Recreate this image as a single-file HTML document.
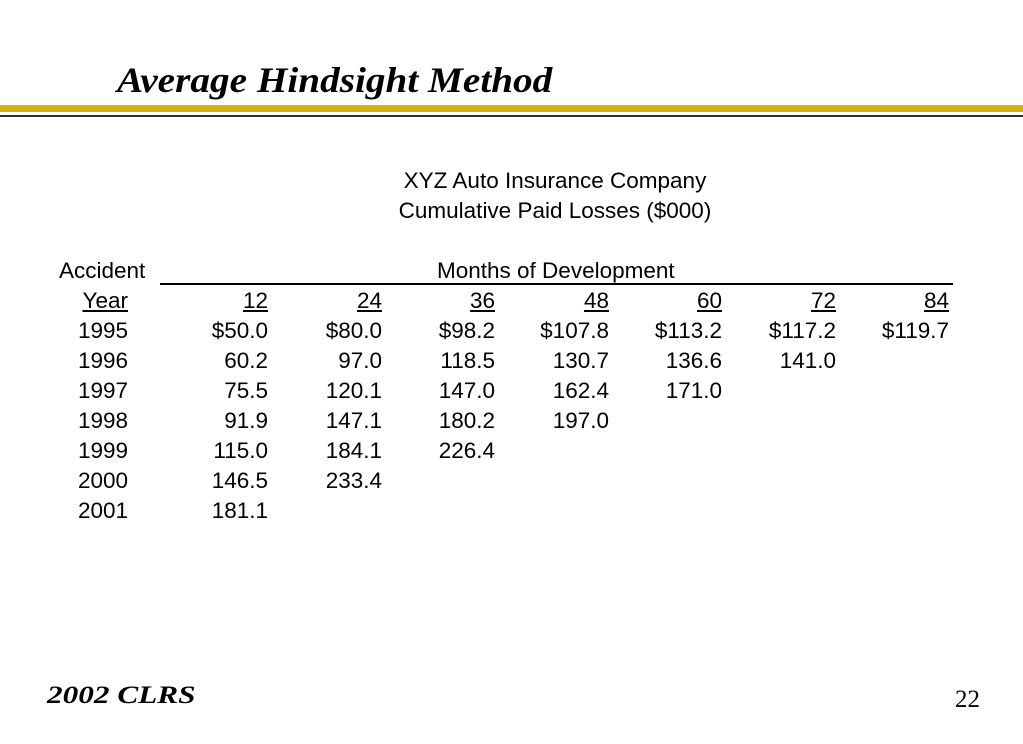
<!DOCTYPE html>
<html><head><style>
body{margin:0;width:1023px;height:744px;background:#fff;position:relative;overflow:hidden;font-family:"Liberation Sans",Arial,sans-serif;color:#000}
.t{position:absolute;white-space:nowrap}
.n{position:absolute;font-size:22.5px;line-height:20px;text-align:right;width:120px}
</style></head><body>
<div class="t" style="left:117px;top:59px;font-family:'Liberation Serif',serif;font-style:italic;font-weight:bold;font-size:36px;transform:scaleX(1.09);transform-origin:left top;">Average Hindsight Method</div>
<div style="position:absolute;left:0;top:105px;width:1023px;height:7px;background:#d4b20c"></div>
<div style="position:absolute;left:0;top:115px;width:1023px;height:2px;background:#333"></div>
<div class="t" style="left:0;width:1110px;text-align:center;top:168px;font-size:22.5px;">XYZ Auto Insurance Company</div>
<div class="t" style="left:0;width:1110px;text-align:center;top:198px;font-size:22.5px;">Cumulative Paid Losses ($000)</div>
<div class="t" style="left:59px;top:258px;font-size:22.5px;">Accident</div>
<div class="t" style="left:437px;top:258px;font-size:22.5px;">Months of Development</div>
<div style="position:absolute;left:160px;top:283px;width:793px;height:2px;background:#000"></div>
<div id="g"></div>
<div class="t" style="left:47px;top:682px;font-family:'Liberation Serif',serif;font-style:italic;font-weight:bold;font-size:25px;transform:scaleX(1.25);transform-origin:left top;">2002 CLRS</div>
<div class="t" style="left:955px;top:686px;font-family:'Liberation Serif',serif;font-size:25px;">22</div>
<script>
var rights=[128,268,382,495,609,722,836,949];
var rows=[["<u>Year</u>","<u>12</u>","<u>24</u>","<u>36</u>","<u>48</u>","<u>60</u>","<u>72</u>","<u>84</u>"],
["1995","$50.0","$80.0","$98.2","$107.8","$113.2","$117.2","$119.7"],
["1996","60.2","97.0","118.5","130.7","136.6","141.0"],
["1997","75.5","120.1","147.0","162.4","171.0"],
["1998","91.9","147.1","180.2","197.0"],
["1999","115.0","184.1","226.4"],
["2000","146.5","233.4"],
["2001","181.1"]];
var h="";
rows.forEach(function(r,i){r.forEach(function(c,j){h+='<div class="n" style="left:'+(rights[j]-120)+'px;top:'+(291+i*30)+'px">'+c+'</div>';});});
document.getElementById("g").innerHTML=h;
</script>
</body></html>
